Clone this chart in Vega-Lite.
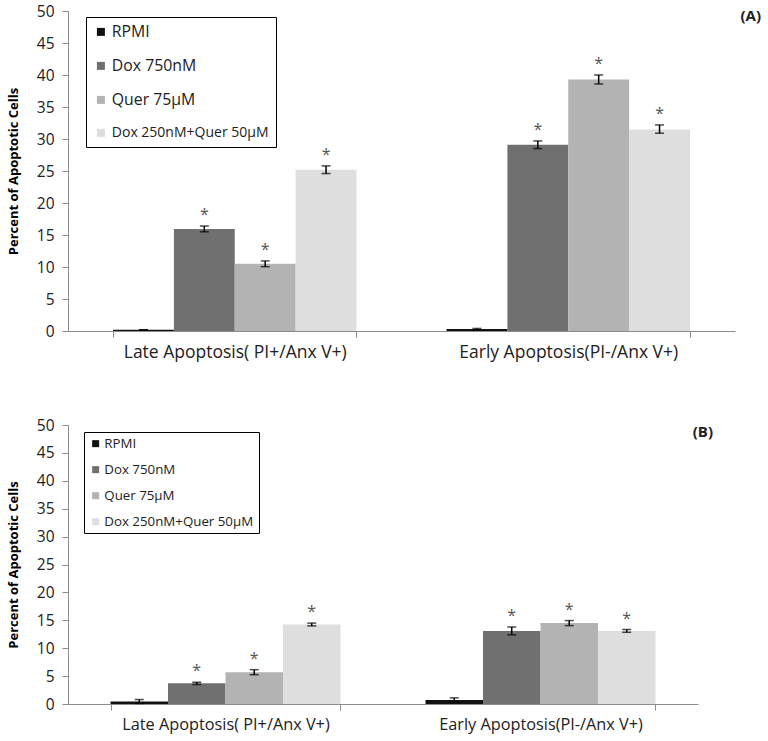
{
  "$schema": "https://vega.github.io/schema/vega-lite/v6.json",
  "background": "white",
  "padding": {"left": 7, "top": 4, "right": 5, "bottom": 5},
  "datasets": {
    "a": [
      {"group": "Late Apoptosis( PI+/Anx V+)", "treatment": "RPMI", "value": 0.2, "lo": 0.2, "hi": 0.2, "sig": ""},
      {"group": "Late Apoptosis( PI+/Anx V+)", "treatment": "Dox 750nM", "value": 15.95, "lo": 15.5, "hi": 16.4, "sig": "*"},
      {"group": "Late Apoptosis( PI+/Anx V+)", "treatment": "Quer 75µM", "value": 10.5, "lo": 10.05, "hi": 10.95, "sig": "*"},
      {"group": "Late Apoptosis( PI+/Anx V+)", "treatment": "Dox 250nM+Quer 50µM", "value": 25.2, "lo": 24.6, "hi": 25.8, "sig": "*"},
      {"group": "Early Apoptosis(PI-/Anx V+)", "treatment": "RPMI", "value": 0.3, "lo": 0.2, "hi": 0.4, "sig": ""},
      {"group": "Early Apoptosis(PI-/Anx V+)", "treatment": "Dox 750nM", "value": 29.1, "lo": 28.5, "hi": 29.7, "sig": "*"},
      {"group": "Early Apoptosis(PI-/Anx V+)", "treatment": "Quer 75µM", "value": 39.3, "lo": 38.6, "hi": 40.0, "sig": "*"},
      {"group": "Early Apoptosis(PI-/Anx V+)", "treatment": "Dox 250nM+Quer 50µM", "value": 31.5, "lo": 30.9, "hi": 32.2, "sig": "*"}
    ],
    "b": [
      {"group": "Late Apoptosis( PI+/Anx V+)", "treatment": "RPMI", "value": 0.45, "lo": 0.1, "hi": 0.8, "sig": ""},
      {"group": "Late Apoptosis( PI+/Anx V+)", "treatment": "Dox 750nM", "value": 3.7, "lo": 3.5, "hi": 3.9, "sig": "*"},
      {"group": "Late Apoptosis( PI+/Anx V+)", "treatment": "Quer 75µM", "value": 5.7, "lo": 5.25, "hi": 6.15, "sig": "*"},
      {"group": "Late Apoptosis( PI+/Anx V+)", "treatment": "Dox 250nM+Quer 50µM", "value": 14.25, "lo": 14.0, "hi": 14.5, "sig": "*"},
      {"group": "Early Apoptosis(PI-/Anx V+)", "treatment": "RPMI", "value": 0.7, "lo": 0.3, "hi": 1.1, "sig": ""},
      {"group": "Early Apoptosis(PI-/Anx V+)", "treatment": "Dox 750nM", "value": 13.1, "lo": 12.4, "hi": 13.8, "sig": "*"},
      {"group": "Early Apoptosis(PI-/Anx V+)", "treatment": "Quer 75µM", "value": 14.5, "lo": 14.05, "hi": 14.95, "sig": "*"},
      {"group": "Early Apoptosis(PI-/Anx V+)", "treatment": "Dox 250nM+Quer 50µM", "value": 13.1, "lo": 12.85, "hi": 13.35, "sig": "*"}
    ]
  },
  "config": {
    "view": {"stroke": null},
    "font": "Open Sans",
    "axis": {"grid": false, "domainColor": "#8c8c8c", "tickColor": "#8c8c8c", "labelColor": "#222", "labelFont": "Open Sans", "labelOverlap": false},
    "title": {"font": "Open Sans", "fontWeight": "bold", "fontSize": 15, "color": "#222"}
  },
  "spacing": 57,
  "resolve": {"legend": {"color": "independent"}, "scale": {"x": "independent", "xOffset": "independent"}},
  "vconcat": [
    {
      "width": 667,
      "height": 320,
      "data": {"name": "a"},
      "title": {"text": "(A)", "anchor": "end", "frame": "group", "dx": 26, "dy": 20, "offset": 0},
      "encoding": {
        "x": {"field": "group", "type": "nominal", "sort": ["Late Apoptosis( PI+/Anx V+)", "Early Apoptosis(PI-/Anx V+)"],
              "scale": {"paddingInner": 0.27, "paddingOuter": 0.135},
              "axis": {"title": null, "labelAngle": 0, "labelFontSize": 17.5, "labelPadding": 6, "labelLimit": 400, "tickBand": "extent", "tickSize": 6}},
        "xOffset": {"field": "treatment", "sort": ["RPMI", "Dox 750nM", "Quer 75µM", "Dox 250nM+Quer 50µM"], "scale": {"paddingInner": 0, "paddingOuter": 0}}
      },
      "layer": [
        {
          "mark": {"type": "bar"},
          "encoding": {
            "y": {"field": "value", "type": "quantitative", "scale": {"domain": [0, 50], "nice": false},
                  "axis": {"title": "Percent of Apoptotic Cells", "titleFontSize": 13, "titleFontWeight": "bold", "titleColor": "#000", "titlePadding": 16,
                           "values": [0, 5, 10, 15, 20, 25, 30, 35, 40, 45, 50], "labelFontSize": 15.5, "tickSize": 6, "labelPadding": 8}},
            "color": {"field": "treatment", "type": "nominal", "sort": ["RPMI", "Dox 750nM", "Quer 75µM", "Dox 250nM+Quer 50µM"],
                      "scale": {"domain": ["RPMI", "Dox 750nM", "Quer 75µM", "Dox 250nM+Quer 50µM"], "range": ["#111111", "#707070", "#b3b3b3", "#dedede"]},
                      "legend": {"title": null, "orient": "none", "legendX": 18, "legendY": 6, "strokeColor": "#000", "fillColor": "white",
                                 "padding": 7, "symbolType": "square", "symbolSize": 64, "symbolStrokeWidth": 0, "labelFontSize": 14, "labelColor": "#222",
                                 "labelLimit": 300, "rowPadding": 17, "labelOffset": 3,
                                 "encode": {"labels": {"update": {"fontSize": {"signal": "datum.value === 'Dox 250nM+Quer 50µM' ? 14 : 15.8"}}}}}}
          }
        },
        {"mark": {"type": "rule", "color": "#000", "strokeWidth": 1.5},
         "encoding": {"y": {"field": "lo", "type": "quantitative", "axis": {"title": "Percent of Apoptotic Cells", "titleFontSize": 13, "titleFontWeight": "bold", "titleColor": "#000", "titlePadding": 16, "values": [0, 5, 10, 15, 20, 25, 30, 35, 40, 45, 50], "labelFontSize": 15.5, "tickSize": 6, "labelPadding": 8}}, "y2": {"field": "hi"}}},
        {"mark": {"type": "tick", "color": "#000", "size": 9, "thickness": 1.5},
         "encoding": {"y": {"field": "lo", "type": "quantitative", "axis": {"title": "Percent of Apoptotic Cells", "titleFontSize": 13, "titleFontWeight": "bold", "titleColor": "#000", "titlePadding": 16, "values": [0, 5, 10, 15, 20, 25, 30, 35, 40, 45, 50], "labelFontSize": 15.5, "tickSize": 6, "labelPadding": 8}}}},
        {"mark": {"type": "tick", "color": "#000", "size": 9, "thickness": 1.5},
         "encoding": {"y": {"field": "hi", "type": "quantitative", "axis": {"title": "Percent of Apoptotic Cells", "titleFontSize": 13, "titleFontWeight": "bold", "titleColor": "#000", "titlePadding": 16, "values": [0, 5, 10, 15, 20, 25, 30, 35, 40, 45, 50], "labelFontSize": 15.5, "tickSize": 6, "labelPadding": 8}}}},
        {"mark": {"type": "text", "color": "#555", "fontSize": 16, "baseline": "middle", "dy": -11},
         "encoding": {"y": {"field": "hi", "type": "quantitative", "axis": {"title": "Percent of Apoptotic Cells", "titleFontSize": 13, "titleFontWeight": "bold", "titleColor": "#000", "titlePadding": 16, "values": [0, 5, 10, 15, 20, 25, 30, 35, 40, 45, 50], "labelFontSize": 15.5, "tickSize": 6, "labelPadding": 8}}, "text": {"field": "sig"}}}
      ]
    },
    {
      "width": 630,
      "height": 279,
      "data": {"name": "b"},
      "title": {"text": "(B)", "anchor": "end", "frame": "group", "dx": 15, "dy": 22, "offset": 0},
      "encoding": {
        "x": {"field": "group", "type": "nominal", "sort": ["Late Apoptosis( PI+/Anx V+)", "Early Apoptosis(PI-/Anx V+)"],
              "scale": {"paddingInner": 0.27, "paddingOuter": 0.135},
              "axis": {"title": null, "labelAngle": 0, "labelFontSize": 16.3, "labelPadding": 6, "labelLimit": 400, "tickBand": "extent", "tickSize": 6}},
        "xOffset": {"field": "treatment", "sort": ["RPMI", "Dox 750nM", "Quer 75µM", "Dox 250nM+Quer 50µM"], "scale": {"paddingInner": 0, "paddingOuter": 0}}
      },
      "layer": [
        {
          "mark": {"type": "bar"},
          "encoding": {
            "y": {"field": "value", "type": "quantitative", "scale": {"domain": [0, 50], "nice": false},
                  "axis": {"title": "Percent of Apoptotic Cells", "titleFontSize": 13, "titleFontWeight": "bold", "titleColor": "#000", "titlePadding": 16,
                           "values": [0, 5, 10, 15, 20, 25, 30, 35, 40, 45, 50], "labelFontSize": 15.5, "tickSize": 6, "labelPadding": 8}},
            "color": {"field": "treatment", "type": "nominal", "sort": ["RPMI", "Dox 750nM", "Quer 75µM", "Dox 250nM+Quer 50µM"],
                      "scale": {"domain": ["RPMI", "Dox 750nM", "Quer 75µM", "Dox 250nM+Quer 50µM"], "range": ["#111111", "#707070", "#b3b3b3", "#dedede"]},
                      "legend": {"title": null, "orient": "none", "legendX": 16, "legendY": 7, "strokeColor": "#000", "fillColor": "white",
                                 "padding": 5, "symbolType": "square", "symbolSize": 49, "symbolStrokeWidth": 0, "labelFontSize": 13.3, "labelColor": "#222",
                                 "labelLimit": 300, "rowPadding": 12, "labelOffset": 2}}
          }
        },
        {"mark": {"type": "rule", "color": "#000", "strokeWidth": 1.5},
         "encoding": {"y": {"field": "lo", "type": "quantitative", "axis": {"title": "Percent of Apoptotic Cells", "titleFontSize": 13, "titleFontWeight": "bold", "titleColor": "#000", "titlePadding": 16, "values": [0, 5, 10, 15, 20, 25, 30, 35, 40, 45, 50], "labelFontSize": 15.5, "tickSize": 6, "labelPadding": 8}}, "y2": {"field": "hi"}}},
        {"mark": {"type": "tick", "color": "#000", "size": 9, "thickness": 1.5},
         "encoding": {"y": {"field": "lo", "type": "quantitative", "axis": {"title": "Percent of Apoptotic Cells", "titleFontSize": 13, "titleFontWeight": "bold", "titleColor": "#000", "titlePadding": 16, "values": [0, 5, 10, 15, 20, 25, 30, 35, 40, 45, 50], "labelFontSize": 15.5, "tickSize": 6, "labelPadding": 8}}}},
        {"mark": {"type": "tick", "color": "#000", "size": 9, "thickness": 1.5},
         "encoding": {"y": {"field": "hi", "type": "quantitative", "axis": {"title": "Percent of Apoptotic Cells", "titleFontSize": 13, "titleFontWeight": "bold", "titleColor": "#000", "titlePadding": 16, "values": [0, 5, 10, 15, 20, 25, 30, 35, 40, 45, 50], "labelFontSize": 15.5, "tickSize": 6, "labelPadding": 8}}}},
        {"mark": {"type": "text", "color": "#555", "fontSize": 16, "baseline": "middle", "dy": -11},
         "encoding": {"y": {"field": "hi", "type": "quantitative", "axis": {"title": "Percent of Apoptotic Cells", "titleFontSize": 13, "titleFontWeight": "bold", "titleColor": "#000", "titlePadding": 16, "values": [0, 5, 10, 15, 20, 25, 30, 35, 40, 45, 50], "labelFontSize": 15.5, "tickSize": 6, "labelPadding": 8}}, "text": {"field": "sig"}}}
      ]
    }
  ]
}
